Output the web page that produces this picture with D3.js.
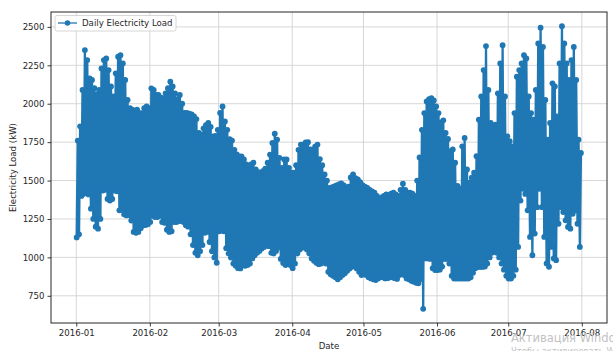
<!DOCTYPE html>
<html>
<head>
<meta charset="utf-8">
<script src="https://cdn.jsdelivr.net/npm/d3@7"></script>
<style>
  html, body { margin: 0; padding: 0; background: #ffffff; }
  svg { display: block; font-family: "DejaVu Sans", sans-serif; }
</style>
</head>
<body>
<svg id="chart" width="613" height="351"></svg>
<script>
// Daily peak load (kW), one value per day starting 2016-01-01
const dailyMax = [
  1760, 1853, 2090, 2349, 2284, 2165, 2155, 2101, 2060, 2090,
  2230, 2284, 2295, 2219, 2112, 2047, 2198, 2306, 2316, 2262,
  2155, 2025, 1971, 1961, 1950, 1961, 1939, 1939, 1971, 1982,
  1971, 2100, 2090, 2058, 2057, 2040, 2036, 2068, 2101, 2143,
  2112, 2068, 2030, 2057, 2000, 1940, 1940, 1935, 1930, 1917,
  1900, 1810, 1800, 1840, 1860, 1875, 1850, 1787, 1790, 1830,
  1940, 1982, 1885, 1830, 1770, 1760, 1700, 1670, 1658, 1658,
  1637, 1605, 1594, 1605, 1616, 1572, 1555, 1551, 1562, 1577,
  1616, 1669, 1745, 1805, 1767, 1648, 1583, 1637, 1637, 1583,
  1551, 1551, 1600, 1700, 1734, 1734, 1749, 1750, 1702, 1700,
  1720, 1734, 1640, 1600, 1540, 1500, 1453, 1455, 1462, 1468,
  1475, 1482, 1470, 1445, 1460, 1520, 1540, 1515, 1507, 1490,
  1470, 1460, 1453, 1440, 1430, 1421, 1400, 1380, 1390, 1400,
  1410, 1405, 1415, 1421, 1410, 1400, 1440, 1480, 1440, 1421,
  1421, 1415, 1400, 1500, 1650, 1830, 1939, 2015, 2030, 2036,
  2021, 1982, 1939, 1879, 1892, 1810, 1771, 1691, 1702, 1616,
  1465, 1447, 1723, 1777, 1572, 1486, 1519, 1551, 1659, 1896,
  2047, 2219, 2375, 2090, 1875, 1842, 1864, 2068, 2262, 2381,
  2047, 1788, 1756, 1723, 1939, 2176, 2219, 2262, 2316, 2295,
  2047, 1939, 1896, 2090, 2392, 2495, 2370, 2025, 1767, 1875,
  2133, 2112, 1917, 2262, 2505, 2392, 2262, 2155, 2284, 2370,
  2155, 1767, 1680
];

// Daily minimum load (kW), same days
const dailyMin = [
  1130, 1150, 1400, 1414, 1420, 1410, 1317, 1250, 1200, 1187,
  1250, 1435, 1440, 1380, 1370, 1380, 1435, 1430, 1306, 1310,
  1280, 1273, 1275, 1240, 1166, 1160, 1166, 1190, 1209, 1210,
  1215, 1230, 1270, 1263, 1263, 1270, 1230, 1225, 1180, 1166,
  1170, 1230, 1230, 1235, 1240, 1230, 1209, 1200, 1150, 1080,
  1030, 1014, 1040, 1080, 1160, 1166, 1100, 1040, 1000, 965,
  1170, 1175, 1170, 1060, 1025, 999, 960, 945, 930, 928,
  950, 945, 950, 960, 993, 1014, 1029, 1042, 1058, 1068,
  1086, 1073, 1029, 1025, 1042, 1064, 990, 963, 950, 960,
  950, 930, 960, 1025, 1051, 1064, 1064, 1051, 1025, 993,
  978, 965, 956, 960, 978, 960, 906, 890, 880, 870,
  857, 870, 885, 896, 913, 928, 939, 948, 928, 906,
  885, 896, 885, 870, 863, 857, 853, 863, 874, 870,
  863, 865, 870, 870, 865, 860, 885, 896, 885, 863,
  857, 848, 842, 835, 831, 857, 665, 993, 993, 990,
  930, 918, 918, 920, 940, 990, 990, 960, 880, 862,
  862, 862, 862, 862, 862, 862, 870, 900, 930, 938,
  938, 938, 940, 960, 1000, 1030, 1040, 1030, 1000, 960,
  920, 880, 862, 862, 880, 920, 1068, 1370, 1446, 1413,
  1306, 1133, 1014, 1155, 1327, 1446, 1327, 1133, 961, 939,
  1068, 993, 982, 1219, 1327, 1295, 1241, 1198, 1187, 1284,
  1306, 1219, 1068
];

const firstDay = "2016-01-01T00:00:00Z";
const lastHour = "2016-07-31T23:00:00Z";
const minHour = 4;    // hour of day the overnight low occurs
const maxHour = 15;   // hour of day the afternoon peak occurs
const monthTicks = ["2016-01-01", "2016-02-01", "2016-03-01", "2016-04-01",
                    "2016-05-01", "2016-06-01", "2016-07-01", "2016-08-01"];
const loadTicks = [750, 1000, 1250, 1500, 1750, 2000, 2250, 2500];
const seriesName = "Daily Electricity Load";
const xTitle = "Date";
const yTitle = "Electricity Load (kW)";

// ---- layout ----
const W = 613, H = 351;
const m = { left: 51, right: 6, top: 12, bottom: 28 };
const pw = W - m.left - m.right, ph = H - m.top - m.bottom;
const color = "#1f77b4";
const ink = "#262626";
const fontSize = 8.6;

const svg = d3.select("#chart");
const HOUR = 3600 * 1000, DAY = 24 * HOUR;
const t0 = Date.parse(firstDay);

// interleave low and peak of each day into a time series
const series = [];
dailyMin.forEach((lo, i) => {
  series.push({ t: new Date(t0 + i * DAY + minHour * HOUR), v: lo });
  series.push({ t: new Date(t0 + i * DAY + maxHour * HOUR), v: dailyMax[i] });
});

// axes with 5% padding around the data, like matplotlib's default margins
const tStart = t0, tEnd = Date.parse(lastHour);
const tPad = (tEnd - tStart) * 0.05;
const x = d3.scaleUtc()
  .domain([new Date(tStart - tPad), new Date(tEnd + tPad)])
  .range([m.left, m.left + pw]);

const vExt = d3.extent(series, d => d.v);
const vPad = (vExt[1] - vExt[0]) * 0.05;
const y = d3.scaleLinear()
  .domain([vExt[0] - vPad, vExt[1] + vPad])
  .range([m.top + ph, m.top]);

const monthDates = monthTicks.map(s => new Date(s + "T00:00:00Z"));

// grid
const grid = svg.append("g").attr("stroke", "#d3d3d3").attr("stroke-width", 0.9);
grid.selectAll("line.gx").data(monthDates).join("line")
  .attr("x1", d => x(d)).attr("x2", d => x(d))
  .attr("y1", m.top).attr("y2", m.top + ph);
grid.selectAll("line.gy").data(loadTicks).join("line")
  .attr("x1", m.left).attr("x2", m.left + pw)
  .attr("y1", d => y(d)).attr("y2", d => y(d));

// data line and markers
const plot = svg.append("g");
plot.append("path")
  .datum(series)
  .attr("fill", "none")
  .attr("stroke", color)
  .attr("stroke-width", 2.3)
  .attr("stroke-linejoin", "round")
  .attr("d", d3.line().x(d => x(d.t)).y(d => y(d.v)));
plot.selectAll("circle").data(series).join("circle")
  .attr("cx", d => x(d.t)).attr("cy", d => y(d.v))
  .attr("r", 2.9).attr("fill", color);

// frame
svg.append("rect")
  .attr("x", m.left).attr("y", m.top).attr("width", pw).attr("height", ph)
  .attr("fill", "none").attr("stroke", ink).attr("stroke-width", 1);

// axes
const xAxis = svg.append("g")
  .attr("transform", `translate(0,${m.top + ph})`)
  .call(d3.axisBottom(x).tickValues(monthDates)
        .tickFormat(d3.utcFormat("%Y-%m")).tickSize(3.5).tickPadding(3));
const yAxis = svg.append("g")
  .attr("transform", `translate(${m.left},0)`)
  .call(d3.axisLeft(y).tickValues(loadTicks).tickFormat(d3.format("d"))
        .tickSize(3.5).tickPadding(3));
[xAxis, yAxis].forEach(g => {
  g.select(".domain").remove();
  g.selectAll(".tick line").attr("stroke", ink).attr("stroke-width", 0.9);
  g.selectAll(".tick text").attr("fill", ink)
    .style("font-family", "DejaVu Sans, sans-serif").style("font-size", fontSize + "px");
});

// axis titles
svg.append("text")
  .attr("x", m.left + pw / 2).attr("y", 348.5)
  .attr("text-anchor", "middle").attr("fill", ink)
  .style("font-size", fontSize + "px").text(xTitle);
svg.append("text")
  .attr("transform", `translate(16,${m.top + ph / 2}) rotate(-90)`)
  .attr("text-anchor", "middle").attr("fill", ink)
  .style("font-size", fontSize + "px").text(yTitle);

// legend
const lg = svg.append("g").attr("transform", `translate(${m.left + 4},${m.top + 3.5})`);
lg.append("rect")
  .attr("width", 121).attr("height", 15.5).attr("rx", 2)
  .attr("fill", "#ffffff").attr("fill-opacity", 0.85)
  .attr("stroke", "#cccccc").attr("stroke-width", 0.8);
lg.append("line")
  .attr("x1", 3).attr("x2", 22).attr("y1", 7.5).attr("y2", 7.5)
  .attr("stroke", color).attr("stroke-width", 1.3);
lg.append("circle").attr("cx", 12.5).attr("cy", 7.5).attr("r", 2.75).attr("fill", color);
lg.append("text")
  .attr("x", 27).attr("y", 10.8).attr("fill", ink)
  .style("font-size", fontSize + "px").text(seriesName);

// system watermark in the lower-right corner
const wm = svg.append("g").attr("fill", "#c2c2c2");
wm.append("text").attr("x", 511).attr("y", 342).style("font-size", "11.5px")
  .text("Активация Windows");
wm.append("text").attr("x", 511).attr("y", 354).style("font-size", "8.5px")
  .text("Чтобы активировать Windows, перейдите в раздел «Параметры».");
</script>
</body>
</html>
